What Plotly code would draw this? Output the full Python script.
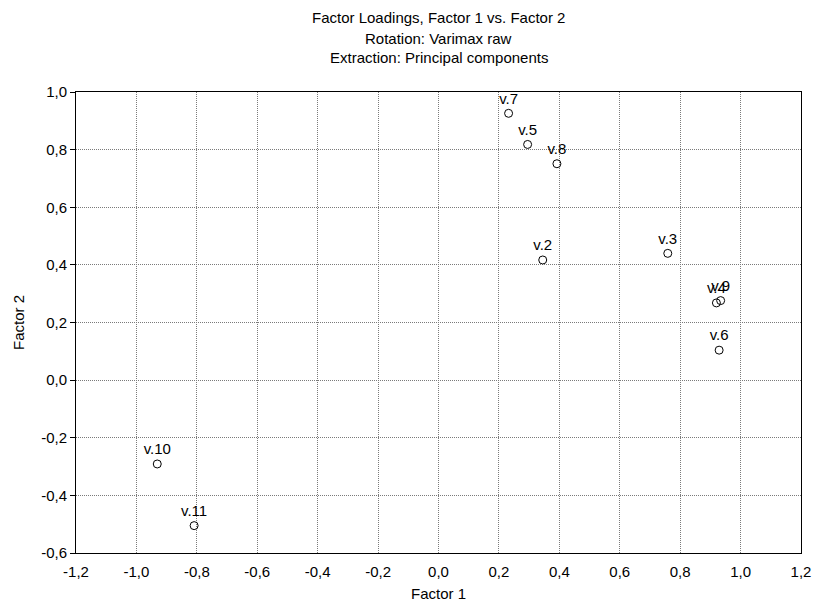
import plotly.graph_objects as go

labels = ["v.2", "v.3", "v.4", "v.5", "v.6", "v.7", "v.8", "v.9", "v.10", "v.11"]
factor1 = [0.345, 0.759, 0.920, 0.295, 0.929, 0.232, 0.392, 0.934, -0.931, -0.809]
factor2 = [0.417, 0.440, 0.268, 0.818, 0.104, 0.926, 0.751, 0.276, -0.291, -0.505]

x_ticks = [-1.2, -1.0, -0.8, -0.6, -0.4, -0.2, 0.0, 0.2, 0.4, 0.6, 0.8, 1.0, 1.2]
x_tick_labels = ["-1,2", "-1,0", "-0,8", "-0,6", "-0,4", "-0,2", "0,0", "0,2", "0,4", "0,6", "0,8", "1,0", "1,2"]
y_ticks = [-0.6, -0.4, -0.2, 0.0, 0.2, 0.4, 0.6, 0.8, 1.0]
y_tick_labels = ["-0,6", "-0,4", "-0,2", "0,0", "0,2", "0,4", "0,6", "0,8", "1,0"]

title_lines = ["Factor Loadings, Factor 1 vs. Factor 2",
               "Rotation: Varimax raw",
               "Extraction: Principal components"]

FONT = "Arial, Liberation Sans"
FS = 15

fig = go.Figure()
fig.add_trace(go.Scatter(
    x=factor1, y=factor2, mode="markers+text", text=labels,
    textposition="top center",
    textfont=dict(family=FONT, size=15, color="black"),
    marker=dict(symbol="circle-open", size=8, color="black", line=dict(width=1)),
    showlegend=False, cliponaxis=False,
))

axis_common = dict(
    showgrid=True, gridcolor="#7a7a7a", griddash="1px,1px", gridwidth=1,
    zeroline=False, showline=True, linecolor="black", linewidth=1, mirror=True,
    automargin=False,
    tickfont=dict(family=FONT, size=FS, color="black"),
)
fig.update_xaxes(range=[-1.2, 1.2], tickvals=x_ticks, ticktext=x_tick_labels,
                 ticks="outside", ticklen=5, tickcolor="rgba(0,0,0,0)",
                 title=dict(text="Factor 1", font=dict(family=FONT, size=FS, color="black"), standoff=9),
                 **axis_common)
fig.update_yaxes(range=[-0.6, 1.0], tickvals=y_ticks, ticktext=y_tick_labels,
                 ticks="outside", ticklen=5, tickcolor="black",
                 title=dict(text="Factor 2", font=dict(family=FONT, size=FS, color="black"), standoff=12),
                 **axis_common)

ann = []
for i, t in enumerate(title_lines):
    ann.append(dict(text=t, xref="paper", yref="paper", x=0.5, y=1 + (74 - 20 * i) / 461,
                    xanchor="center", yanchor="middle", showarrow=False,
                    font=dict(family=FONT, size=FS, color="black")))

fig.update_layout(
    width=813, height=609,
    margin=dict(l=76, r=12, t=92, b=56),
    plot_bgcolor="white", paper_bgcolor="white",
    annotations=ann,
    font=dict(family=FONT, size=FS, color="black"),
)
fig.write_html("out.html", config={"displayModeBar": False},
               post_script="document.body.style.margin='0';")
